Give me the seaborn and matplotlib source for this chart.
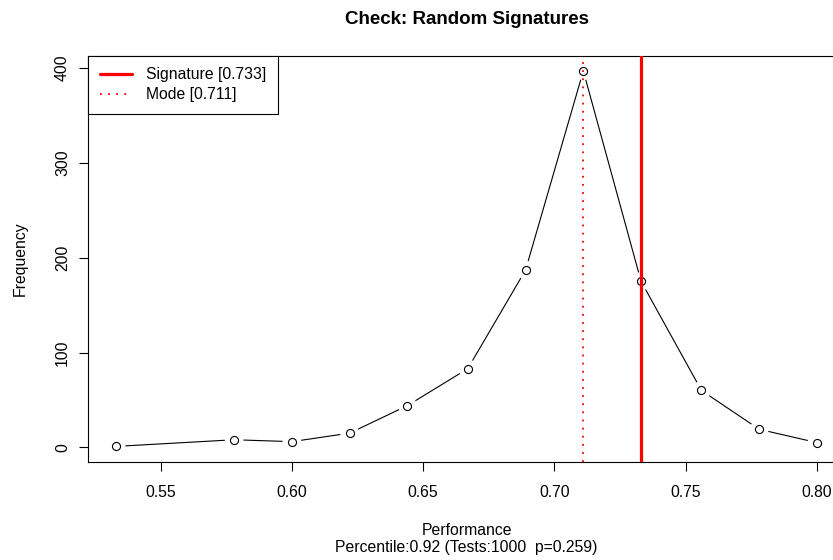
import matplotlib
matplotlib.use("Agg")
import matplotlib.pyplot as plt
import seaborn as sns
import pandas as pd

performance = [0.533, 0.578, 0.600, 0.622, 0.644, 0.667, 0.689, 0.711, 0.733, 0.756, 0.778, 0.800]
frequency = [1, 8, 6, 15, 44, 83, 187, 397, 175, 60, 19, 5]
signature_value = 0.733
mode_value = 0.711
x_ticks = [0.55, 0.60, 0.65, 0.70, 0.75, 0.80]
y_ticks = [0, 100, 200, 300, 400]
title = "Check: Random Signatures"
xlabel_line1 = "Performance"
xlabel_line2 = "Percentile:0.92 (Tests:1000  p=0.259)"
ylabel = "Frequency"

sns.set_style("ticks")
plt.rcParams['font.family'] = ['Liberation Sans', 'DejaVu Sans']
plt.rcParams['text.color'] = 'black'
plt.rcParams['axes.labelcolor'] = 'black'
plt.rcParams['xtick.color'] = 'black'
plt.rcParams['ytick.color'] = 'black'
FS = 11.3

W, H = 833, 560
fig = plt.figure(figsize=(W / 100, H / 100), dpi=100)
left, right, top, bottom = 88, 845, 55.8, 462.4
ax = fig.add_axes([left / W, 1 - bottom / H, (right - left) / W, (bottom - top) / H])

df = pd.DataFrame({"Performance": performance, "Frequency": frequency})
# connecting line
sns.lineplot(data=df, x="Performance", y="Frequency", ax=ax, color="black", lw=0.8, zorder=2)
# white gaps around points (R type="b")
sns.scatterplot(data=df, x="Performance", y="Frequency", ax=ax, s=13.5 ** 2,
                color="white", edgecolor="none", linewidth=0, zorder=3)
# hollow circles
sns.scatterplot(data=df, x="Performance", y="Frequency", ax=ax, s=5.8 ** 2,
                facecolor="white", edgecolor="black", linewidth=0.8, zorder=4)

ax.axvline(signature_value, color="red", lw=2.3, label=f"Signature [{signature_value:.3f}]", zorder=5)
ax.axvline(mode_value, color="red", lw=1.3, ls=(0, (1, 3.5)), label=f"Mode [{mode_value:.3f}]", zorder=5)

xr = max(performance) - min(performance)
ax.set_xlim(min(performance) - 0.04 * xr, max(performance) + 0.04 * xr)
yr = max(frequency) - 0
ax.set_ylim(0 - 0.04 * yr, max(frequency) + 0.04 * yr)
ax.set_xticks(x_ticks)
ax.set_xticklabels([f"{v:.2f}" for v in x_ticks])
ax.set_yticks(y_ticks)
ax.set_yticklabels([str(v) for v in y_ticks], rotation=90, va="center")
ax.tick_params(axis="both", direction="out", length=6.5, width=0.8, color="black",
               labelcolor="black", labelsize=FS)
ax.tick_params(axis="x", pad=10)
ax.tick_params(axis="y", pad=6.5)
for s in ax.spines.values():
    s.set_visible(True)
    s.set_color("black")
    s.set_linewidth(0.8)

ax.set_xlabel("")
ax.set_ylabel("")
cx = ((left + right) / 2) / W
fig.text(cx, 1 - 535.0 / H, xlabel_line1, ha="center", va="baseline", fontsize=FS, color="black")
fig.text(cx, 1 - 552.3 / H, xlabel_line2, ha="center", va="baseline", fontsize=FS, color="black")
fig.text(25 / W, 1 - ((top + bottom) / 2) / H, ylabel, rotation=90, ha="center", va="baseline",
         rotation_mode="anchor", fontsize=FS, color="black")
fig.text(cx, 1 - 23.7 / H, title, ha="center", va="baseline", fontsize=13.5, fontweight="bold",
         color="black")

handles, labels = ax.get_legend_handles_labels()
leg = ax.legend(handles, labels, loc="upper left", bbox_to_anchor=(0, 1), borderaxespad=0,
                frameon=True, fancybox=False, edgecolor="black", fontsize=FS,
                handlelength=2.04, borderpad=0.74, labelspacing=0.3, handletextpad=0.9)
leg.get_frame().set_linewidth(0.8)
leg.get_frame().set_alpha(1)
leg.set_zorder(10)
for t in leg.get_texts():
    t.set_color("black")

fig.savefig("out.png", dpi=100)
